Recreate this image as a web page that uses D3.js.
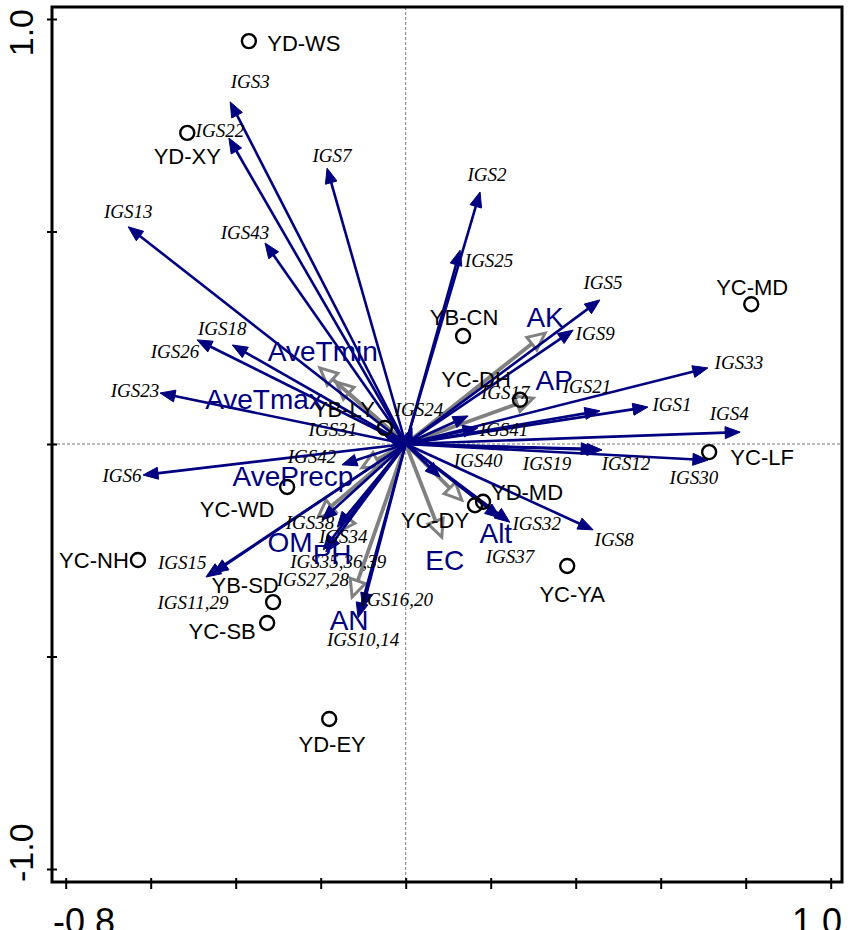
<!DOCTYPE html>
<html>
<head>
<meta charset="utf-8">
<script src="https://cdn.jsdelivr.net/npm/d3@7"></script>
<style>
  body { margin: 0; background: #fff; }
  svg { display: block; }
</style>
</head>
<body>
<svg id="rda" width="850" height="930"></svg>
<script>
// species (IGS) arrows
const igsNames = ["IGS1", "IGS2", "IGS3", "IGS4", "IGS5", "IGS6", "IGS7", "IGS8", "IGS9",
  "IGS10,14", "IGS11,29", "IGS12", "IGS13", "IGS15", "IGS16,20", "IGS17", "IGS18", "IGS19",
  "IGS21", "IGS22", "IGS23", "IGS24", "IGS25", "IGS26", "IGS27,28", "IGS30", "IGS31", "IGS32",
  "IGS33", "IGS34", "IGS35,36,39", "IGS37", "IGS38", "IGS40", "IGS41", "IGS42", "IGS43"];
const igsX = [0.570, 0.175, -0.413, 0.787, 0.457, -0.618, -0.185, 0.441, 0.394,
  -0.112, -0.470, 0.462, -0.653, -0.453, -0.101, 0.147, -0.408, 0.448,
  0.457, -0.416, -0.578, 0.015, 0.128, -0.491, -0.188, 0.711, -0.049, 0.245,
  0.711, -0.161, -0.194, 0.222, -0.197, 0.081, 0.170, -0.150, -0.331];
const igsY = [0.087, 0.593, 0.805, 0.028, 0.339, -0.073, 0.649, -0.202, 0.268,
  -0.409, -0.313, -0.014, 0.511, -0.304, -0.386, 0.066, 0.233, -0.012,
  0.078, 0.720, 0.120, 0.038, 0.456, 0.245, -0.254, -0.038, 0.019, -0.184,
  0.179, -0.195, -0.249, -0.174, -0.179, -0.078, 0.038, -0.049, 0.473];

// environmental arrows
const envNames = ["AK", "AP", "AveTmin", "AveTmax", "AvePrecp", "OM", "PH", "AN", "EC", "Alt"];
const envX = [0.328, 0.300, -0.202, -0.164, -0.103, -0.206, -0.159, -0.126, 0.085, 0.132];
const envY = [0.261, 0.108, 0.179, 0.146, -0.056, -0.172, -0.207, -0.360, -0.219, -0.132];

// sample sites
const siteNames = ["YD-WS", "YD-XY", "YC-MD", "YB-CN", "YC-DH", "YB-LY", "YC-LF", "YC-WD",
  "YD-MD", "YC-DY", "YC-NH", "YB-SD", "YC-SB", "YC-YA", "YD-EY"];
const siteX = [-0.369, -0.514, 0.813, 0.135, 0.269, -0.049, 0.714, -0.279,
  0.182, 0.163, -0.630, -0.312, -0.326, 0.380, -0.180];
const siteY = [0.948, 0.732, 0.329, 0.254, 0.104, 0.038, -0.019, -0.101,
  -0.136, -0.144, -0.273, -0.372, -0.421, -0.287, -0.647];

const xTicks = [-0.8, -0.6, -0.4, -0.2, 0, 0.2, 0.4, 0.6, 0.8, 1.0];
const yTicks = [-1.0, -0.5, 0, 0.5, 1.0];

// label offsets in px (label centre relative to the arrow tip / circle)
const labelOffset = {
  "IGS1": [24, -3], "IGS2": [7, -17], "IGS3": [20, -20], "IGS4": [-11, -19], "IGS5": [3, -17],
  "IGS6": [-21, 0], "IGS7": [5, -13], "IGS8": [21, 10], "IGS9": [22, 3], "IGS10,14": [5, 22],
  "IGS11,29": [-13, 25], "IGS12": [24, 14], "IGS13": [0, -15], "IGS15": [-31, -11],
  "IGS16,20": [34, -9], "IGS17": [37, -23], "IGS18": [-10, -16], "IGS19": [-49, 14],
  "IGS21": [-13, -24], "IGS22": [-9, -8], "IGS23": [-25, -3], "IGS24": [7, -18],
  "IGS25": [29, 10], "IGS26": [-22, 12], "IGS27,28": [-13, 28], "IGS30": [-14, 17],
  "IGS31": [-52, -6], "IGS32": [27, 1], "IGS33": [31, -5], "IGS34": [6, 10],
  "IGS35,36,39": [15, 12], "IGS37": [10, 39], "IGS38": [-12, 2], "IGS40": [38, -17],
  "IGS41": [26, 2], "IGS42": [-30, -8], "IGS43": [-20, -10],
  "AK": [0, -16], "AP": [21, -18], "AveTmin": [3, -16], "AveTmax": [-72, 18],
  "AvePrecp": [-69, 9], "OM": [-28, 25], "PH": [-6, 23], "AN": [-3, 23], "EC": [3, 23],
  "Alt": [34, 33],
  "YD-WS": [55, 2], "YD-XY": [0, 24], "YC-MD": [1, -17], "YB-CN": [1, -19], "YC-DH": [-44, -20],
  "YB-LY": [-41, -18], "YC-LF": [53, 5], "YC-WD": [-50, 23], "YD-MD": [44, -9],
  "YC-DY": [-40, 15], "YC-NH": [-44, 0], "YB-SD": [-28, -17], "YC-SB": [-45, 9],
  "YC-YA": [5, 29], "YD-EY": [3, 26]
};

const navy = "#000080", grey = "#808080";

const svg = d3.select("#rda");

const x = d3.scaleLinear().domain([-0.8, 1.0]).range([65.7, 830.7]);
const y = d3.scaleLinear().domain([-1.0, 1.0]).range([869, 19]);

const frame = { left: 52, right: 842, top: 7, bottom: 882 };

// zero lines
svg.append("line")
  .attr("x1", x(0)).attr("x2", x(0))
  .attr("y1", frame.top).attr("y2", frame.bottom)
  .attr("stroke", "#555").attr("stroke-width", 0.8).attr("stroke-dasharray", "3,2");
svg.append("line")
  .attr("x1", frame.left).attr("x2", frame.right)
  .attr("y1", y(0)).attr("y2", y(0))
  .attr("stroke", "#555").attr("stroke-width", 0.8).attr("stroke-dasharray", "3,2");

function arrow(g, x1, y1, len, half, color, width, hollow) {
  const x0 = x(0), y0 = y(0);
  const tx = x(x1), ty = y(y1);
  const dx = tx - x0, dy = ty - y0;
  const L = Math.sqrt(dx * dx + dy * dy) || 1;
  const ux = dx / L, uy = dy / L;
  const bx = tx - ux * len, by = ty - uy * len;
  g.append("line")
    .attr("x1", x0).attr("y1", y0)
    .attr("x2", hollow ? bx : tx - ux * len * 0.5).attr("y2", hollow ? by : ty - uy * len * 0.5)
    .attr("stroke", color).attr("stroke-width", width);
  const pts = [[tx, ty], [bx - uy * half, by + ux * half], [bx + uy * half, by - ux * half]];
  g.append("path")
    .attr("d", "M" + pts.map((p) => p.join(",")).join("L") + "Z")
    .attr("fill", hollow ? "none" : color)
    .attr("stroke", color)
    .attr("stroke-width", hollow ? 3 : 1)
    .attr("stroke-linejoin", "miter");
}

// environmental arrows (grey, open heads)
const envG = svg.append("g");
envNames.forEach((n, i) => arrow(envG, envX[i], envY[i], 17, 8, grey, 3.8, true));

// IGS arrows (navy, filled heads)
const igsG = svg.append("g");
igsNames.forEach((n, i) => arrow(igsG, igsX[i], igsY[i], 15, 6, navy, 2.6, false));

// sites
svg.selectAll("circle.site")
  .data(siteNames)
  .join("circle")
  .attr("class", "site")
  .attr("cx", (d, i) => x(siteX[i]))
  .attr("cy", (d, i) => y(siteY[i]))
  .attr("r", 7)
  .attr("fill", "none")
  .attr("stroke", "#000")
  .attr("stroke-width", 2.4);

// labels
function labels(names, xs, ys, font, size, style, color) {
  svg.append("g")
    .selectAll("text")
    .data(names)
    .join("text")
    .attr("x", (d, i) => x(xs[i]) + labelOffset[d][0])
    .attr("y", (d, i) => y(ys[i]) + labelOffset[d][1])
    .attr("text-anchor", "middle")
    .attr("dominant-baseline", "central")
    .style("font-family", font)
    .style("font-size", size + "px")
    .style("font-style", style)
    .attr("fill", color)
    .text((d) => d);
}

labels(igsNames, igsX, igsY, "'Liberation Serif', 'Times New Roman', serif", 19, "italic", "#000");
labels(siteNames, siteX, siteY, "'Liberation Sans', Arial, sans-serif", 22, "normal", "#000");
labels(envNames, envX, envY, "'Liberation Sans', Arial, sans-serif", 28, "normal", navy);

// frame
svg.append("rect")
  .attr("x", frame.left).attr("y", frame.top)
  .attr("width", frame.right - frame.left)
  .attr("height", frame.bottom - frame.top)
  .attr("fill", "none").attr("stroke", "#000").attr("stroke-width", 3);

// ticks
const bottomAxis = svg.append("g")
  .attr("transform", `translate(0,${frame.bottom - 4})`)
  .call(d3.axisBottom(x).tickValues(xTicks).tickSize(11).tickFormat(""));
const leftAxis = svg.append("g")
  .attr("transform", `translate(${frame.left + 5},0)`)
  .call(d3.axisLeft(y).tickValues(yTicks).tickSize(10).tickFormat(""));
[bottomAxis, leftAxis].forEach((a) => {
  a.select(".domain").remove();
  a.selectAll(".tick line").attr("stroke", "#000").attr("stroke-width", 2);
});

// end labels
const axisFont = "'Liberation Sans', Arial, sans-serif";
svg.append("text").attr("x", frame.left + 1).attr("y", 934)
  .attr("text-anchor", "start").style("font-family", axisFont).style("font-size", "36px")
  .text(xTicks[0].toFixed(1));
svg.append("text").attr("x", frame.right).attr("y", 934)
  .attr("text-anchor", "end").style("font-family", axisFont).style("font-size", "36px")
  .text(xTicks[xTicks.length - 1].toFixed(1));
svg.append("text").attr("transform", `translate(33,${frame.top + 2}) rotate(-90)`)
  .attr("text-anchor", "end").style("font-family", axisFont).style("font-size", "34px")
  .text(yTicks[yTicks.length - 1].toFixed(1));
svg.append("text").attr("transform", `translate(33,${frame.bottom}) rotate(-90)`)
  .attr("text-anchor", "start").style("font-family", axisFont).style("font-size", "34px")
  .text(yTicks[0].toFixed(1));
</script>
</body>
</html>
